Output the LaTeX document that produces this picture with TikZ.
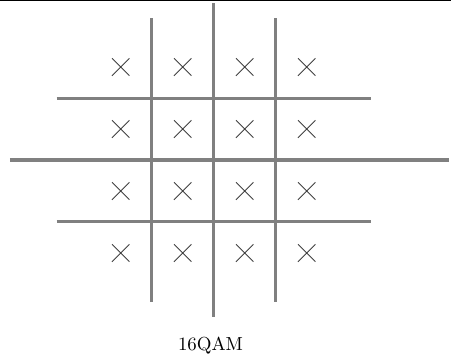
\documentclass[tikz,border=0pt]{standalone}
\usetikzlibrary{shapes.misc}
\begin{document}
\begin{tikzpicture}[x=0.53pt,y=-0.53pt,
  axis/.style={line width=1.6pt,color=black!50},
  pt/.style={cross out,draw=black!75,line width=0.45pt,minimum size=8.8pt,inner sep=0pt}]
\useasboundingbox (0,0) rectangle (451,360);
\fill[black] (0,0) rectangle (451,1.3);
% grid lines
\draw[axis] (213.7,3) -- (213.7,317);
\draw[axis] (151.7,18.3) -- (151.7,301.7);
\draw[axis] (275.9,18.3) -- (275.9,301.7);
\draw[axis] (10,160) -- (449,160);
\draw[axis] (56.7,98.2) -- (371.3,98.2);
\draw[axis] (56.7,221.8) -- (371.3,221.8);
% constellation points
\foreach \i/\x in {1/120.7,2/182.7,3/244.7,4/306.7}{
  \foreach \j/\y in {1/67,2/129,3/191,4/253}{
    \node[pt] (p\i\j) at (\x,\y) {};
  }
}
\node (lbl) at (210.5,346) {16QAM};
\end{tikzpicture}
\end{document}
